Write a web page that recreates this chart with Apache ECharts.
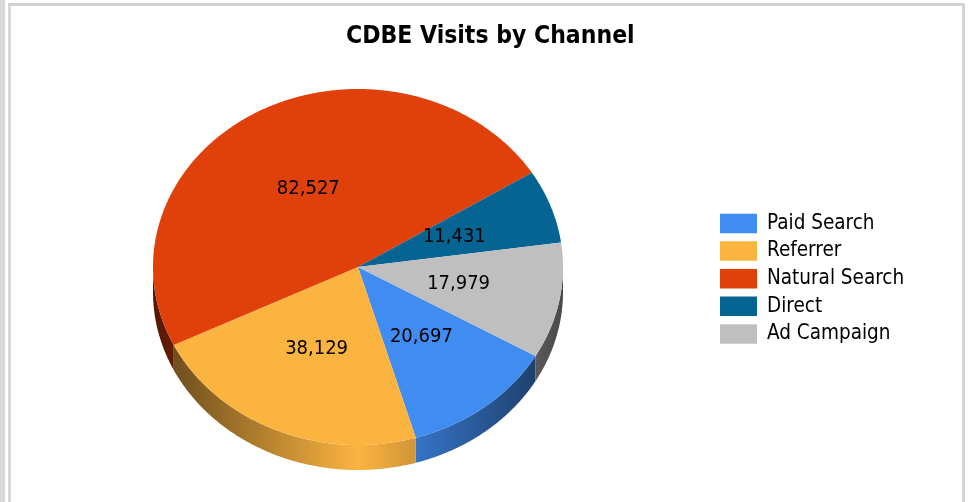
<!DOCTYPE html>
<html>
<head>
<meta charset="utf-8">
<style>html,body{margin:0;padding:0;background:#fff}#c{width:973px;height:502px}</style>
<script src="https://cdn.jsdelivr.net/npm/echarts@6/dist/echarts.min.js"></script>
</head>
<body>
<div id="c"></div>
<script>
const titleText = 'CDBE Visits by Channel';
const categories = ['Paid Search', 'Referrer', 'Natural Search', 'Direct', 'Ad Campaign'];
const visits = [20697, 38129, 82527, 11431, 17979];
const palette = ['#418CF0', '#FCB441', '#E0400A', '#056492', '#BFBFBF'];

const FONT = '"DejaVu Sans Condensed", "DejaVu Sans", sans-serif';
const CX = 358, CY = 267, RX = 205, RY = 178, DEPTH = 25;
const START = 30;
const total = visits.reduce((a, b) => a + b, 0);

function darken(hex, k) {
  const n = parseInt(hex.slice(1), 16);
  const c = [n >> 16 & 255, n >> 8 & 255, n & 255].map(v => Math.round(v * k));
  return 'rgb(' + c.join(',') + ')';
}
function pt(deg, dy) {
  const a = deg * Math.PI / 180;
  return [CX + RX * Math.cos(a), CY + RY * Math.sin(a) + (dy || 0)];
}
function arc(a0, a1, dy) {
  const n = Math.max(2, Math.ceil(Math.abs(a1 - a0) * 2));
  const out = [];
  for (let i = 0; i <= n; i++) out.push(pt(a0 + (a1 - a0) * i / n, dy));
  return out;
}
function sidePieces(a0, a1) {
  const res = [];
  for (const k of [-360, 0, 360]) {
    const s = Math.max(a0, k), e = Math.min(a1, k + 180);
    if (e > s) res.push(arc(s, e, 0).concat(arc(e, s, DEPTH)));
  }
  return res;
}

let cum = 0;
const series = categories.map((name, i) => {
  const offset = cum;
  cum += visits[i];
  const color = palette[i];
  return {
    type: 'custom',
    name: name,
    coordinateSystem: 'none',
    itemStyle: { color: color },
    data: [[visits[i], offset]],
    renderItem: function (params, api) {
      const value = api.value(0), before = api.value(1);
      const a0 = START + before / total * 360;
      const a1 = a0 + value / total * 360;
      const grad = new echarts.graphic.LinearGradient(CX - RX, 0, CX + RX, 0, [
        { offset: 0, color: darken(color, 0.38) },
        { offset: 0.5, color: color },
        { offset: 1, color: darken(color, 0.38) }
      ], true);
      const children = sidePieces(a0, a1).map(points => ({
        type: 'polygon', z2: 1, shape: { points: points },
        style: { fill: grad }
      }));
      children.push({
        type: 'polygon', z2: 2,
        shape: { points: [[CX, CY]].concat(arc(a0, a1, 0)) },
        style: { fill: color }
      });
      const mid = pt((a0 + a1) / 2);
      children.push({
        type: 'text', z2: 3,
        style: {
          text: value.toLocaleString('en-US'),
          x: CX + (mid[0] - CX) * 0.5,
          y: CY + (mid[1] - CY) * 0.5,
          align: 'center', verticalAlign: 'middle',
          fill: '#000', font: '20px ' + FONT
        }
      });
      return { type: 'group', children: children };
    }
  };
});

const chart = echarts.init(document.getElementById('c'), null, { renderer: 'canvas' });
chart.setOption({
  animation: false,
  backgroundColor: '#fff',
  title: {
    text: titleText, left: 346, top: 24,
    padding: 0,
    textStyle: { fontFamily: FONT, fontSize: 24.5, fontWeight: 'bold', color: '#000' }
  },
  legend: {
    orient: 'vertical', left: 720, top: 213,
    itemWidth: 37, itemHeight: 19.5, itemGap: 6.6,
    icon: 'rect', selectedMode: false,
    data: categories,
    textStyle: { fontFamily: FONT, fontSize: 20.5, color: '#000', padding: [0, 0, 0, 5] },
    padding: 0
  },
  graphic: [
    { type: 'rect', shape: { x: 0, y: 0, width: 5, height: 502 }, style: { fill: '#d9d9d9' } },
    { type: 'rect', shape: { x: 8, y: 3, width: 3, height: 499 }, style: { fill: '#d9d9d9' } },
    { type: 'rect', shape: { x: 8, y: 3, width: 957, height: 3 }, style: { fill: '#d3d3d3' } },
    { type: 'rect', shape: { x: 962, y: 3, width: 3, height: 499 }, style: { fill: '#d3d3d3' } }
  ],
  series: series
});
</script>
</body>
</html>
